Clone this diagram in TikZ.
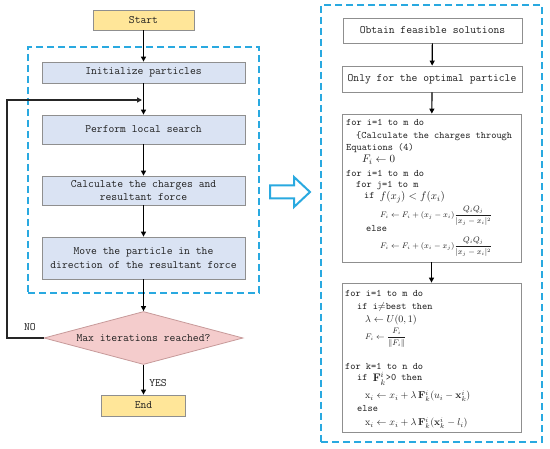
\documentclass[tikz,border=0pt]{standalone}
\usepackage{amsmath}
\usetikzlibrary{arrows.meta,shapes.geometric}
\definecolor{cyanline}{HTML}{29A9E0}
\definecolor{boxblue}{HTML}{DAE3F3}
\definecolor{boxyellow}{HTML}{FFE699}
\definecolor{boxpink}{HTML}{F4CCCC}
\definecolor{pinkedge}{HTML}{C79A9A}
\definecolor{edgegray}{HTML}{8F8F8F}
\definecolor{txtgray}{HTML}{1E1E1E}
\newcommand{\flowfont}{\fontsize{11.3}{13.8}\selectfont\ttfamily}
\newcommand{\codefont}{\fontsize{9.9}{12}\selectfont\ttfamily}
\tikzset{
  flowbox/.style={draw=edgegray, line width=0.8pt, inner sep=0pt, align=center, font=\flowfont, text=txtgray},
  bluebox/.style={flowbox, fill=boxblue, minimum width=203pt},
  yellowbox/.style={flowbox, fill=boxyellow},
  whitebox/.style={flowbox, fill=white},
  codeline/.style={anchor=west, inner sep=0pt, font=\codefont, text=txtgray},
  smallmath/.style={anchor=west, inner sep=0pt, font=\fontsize{7.6}{8.5}\selectfont, text=txtgray},
  midmath/.style={anchor=west, inner sep=0pt, font=\fontsize{10}{11}\selectfont, text=txtgray},
  conn/.style={line width=1.2pt, -{Triangle[length=5pt,width=5pt]}},
  dashbox/.style={draw=cyanline, line width=1.4pt, dash pattern=on 7pt off 4pt},
  lbl/.style={inner sep=0pt, font=\flowfont, text=txtgray}
}
\begin{document}
\begin{tikzpicture}[x=1pt,y=-1pt]
\useasboundingbox (0,0) rectangle (550,449);
\fill[white] (0,0) rectangle (550,449);

% ---------- left flowchart ----------
\node[dashbox, minimum width=231pt, minimum height=246pt, inner sep=0pt] (leftframe) at (143.5,170) {};
\node[yellowbox, minimum width=101pt, minimum height=20pt] (start) at (143.5,20) {Start};
\node[bluebox, minimum height=21pt] (init) at (143.5,72.5) {Initialize particles};
\node[bluebox, minimum height=29pt] (local) at (143.5,129.5) {Perform local search};
\node[bluebox, minimum height=29pt] (calc) at (143.5,190.5) {Calculate the charges and\\resultant force};
\node[bluebox, minimum height=42pt] (move) at (143.5,258) {Move the particle in the\\direction of the resultant force};
\node[diamond, draw=pinkedge, fill=boxpink, line width=0.8pt, aspect=3.75, minimum width=199pt, minimum height=53pt, inner sep=0pt, font=\flowfont, text=txtgray] (dia) at (143.5,338) {Max iterations reached?};
\node[yellowbox, minimum width=84pt, minimum height=21pt] (end) at (143.5,405.5) {End};

\draw[conn] (start) -- (init);
\draw[conn] (init) -- (local);
\draw[conn] (local) -- (calc);
\draw[conn] (calc) -- (move);
\draw[conn] (move) -- (dia);
\draw[conn] (dia) -- (end);
\node[lbl] (yes) at (158,383) {YES};

\coordinate (loopA) at (7,338);
\coordinate (loopB) at (7,100);
\coordinate (loopC) at (142,100);
\draw[conn, draw=black!85] (dia.west) -- (loopA) -- (loopB) -- (loopC);
\node[lbl] (no) at (30,327) {NO};

% ---------- hollow arrow ----------
\draw[draw=cyanline, line width=2pt, fill=white, line join=miter]
  (270,185.5) -- (294,185.5) -- (294,177) -- (310,192) -- (294,207) -- (294,198.5) -- (270,198.5) -- cycle;

% ---------- right panel ----------
\node[dashbox, minimum width=221pt, minimum height=437pt, inner sep=0pt] (rightframe) at (431.5,223.5) {};
\node[whitebox, minimum width=179pt, minimum height=25pt] (obtain) at (432.5,30.5) {Obtain feasible solutions};
\node[whitebox, minimum width=180pt, minimum height=26pt] (only) at (432,79) {Only for the optimal particle};
\node[whitebox, minimum width=179pt, minimum height=148pt] (charge) at (431.5,188) {};
\node[whitebox, minimum width=179pt, minimum height=149pt] (update) at (431.5,357.5) {};

\draw[conn] (obtain) -- (only);
\draw[conn] (only) -- (charge);
\draw[conn] (charge) -- (update);

% box 3 contents
\node[codeline] (c1) at (346,122) {for i=1 to m do};
\node[codeline] (c2) at (356,136) {\{Calculate the charges through};
\node[codeline] (c3) at (346,148) {Equations (4)};
\node[anchor=west, inner sep=0pt, font=\fontsize{11}{12}\selectfont, text=txtgray] (c4) at (362,160) {$F_i \leftarrow 0$};
\node[codeline] (c5) at (346,173) {for i=1 to m do};
\node[codeline] (c6) at (356,186) {for j=1 to m};
\node[codeline] (c7) at (364,197) {if \raisebox{-1pt}{\fontsize{11}{12}\selectfont$f(x_j) < f(x_i)$}};
\node[smallmath] (c8) at (380,216) {$F_i\leftarrow F_i+(x_j-x_i)\dfrac{Q_iQ_j}{|x_j-x_i|^2}$};
\node[codeline] (c9) at (366,229) {else};
\node[smallmath] (c10) at (380,247) {$F_i\leftarrow F_i+(x_i-x_j)\dfrac{Q_iQ_j}{|x_j-x_i|^2}$};

% box 4 contents
\node[codeline] (d1) at (345,293) {for i=1 to m do};
\node[codeline] (d2) at (357,307) {if i$\neq$best then};
\node[midmath] (d3) at (365,320) {$\lambda \leftarrow U(0,1)$};
\node[smallmath] (d4) at (365,338) {$F_i\leftarrow \dfrac{F_i}{\|F_i\|}$};
\node[codeline] (d5) at (345,366) {for k=1 to n do};
\node[codeline] (d6) at (357,379) {if \raisebox{-1pt}{\fontsize{11}{12}\selectfont$\mathbf{F}^{i}_{k}$}>0 then};
\node[midmath] (d7) at (365,396) {$\mathrm{x}_i\leftarrow x_i+\lambda\,\mathbf{F}^{i}_{k}(u_i-\mathbf{x}^{i}_{k})$};
\node[codeline] (d8) at (357,409) {else};
\node[midmath] (d9) at (365,423) {$\mathrm{x}_i\leftarrow x_i+\lambda\,\mathbf{F}^{i}_{k}(\mathbf{x}^{i}_{k}-l_i)$};
\end{tikzpicture}
\end{document}
